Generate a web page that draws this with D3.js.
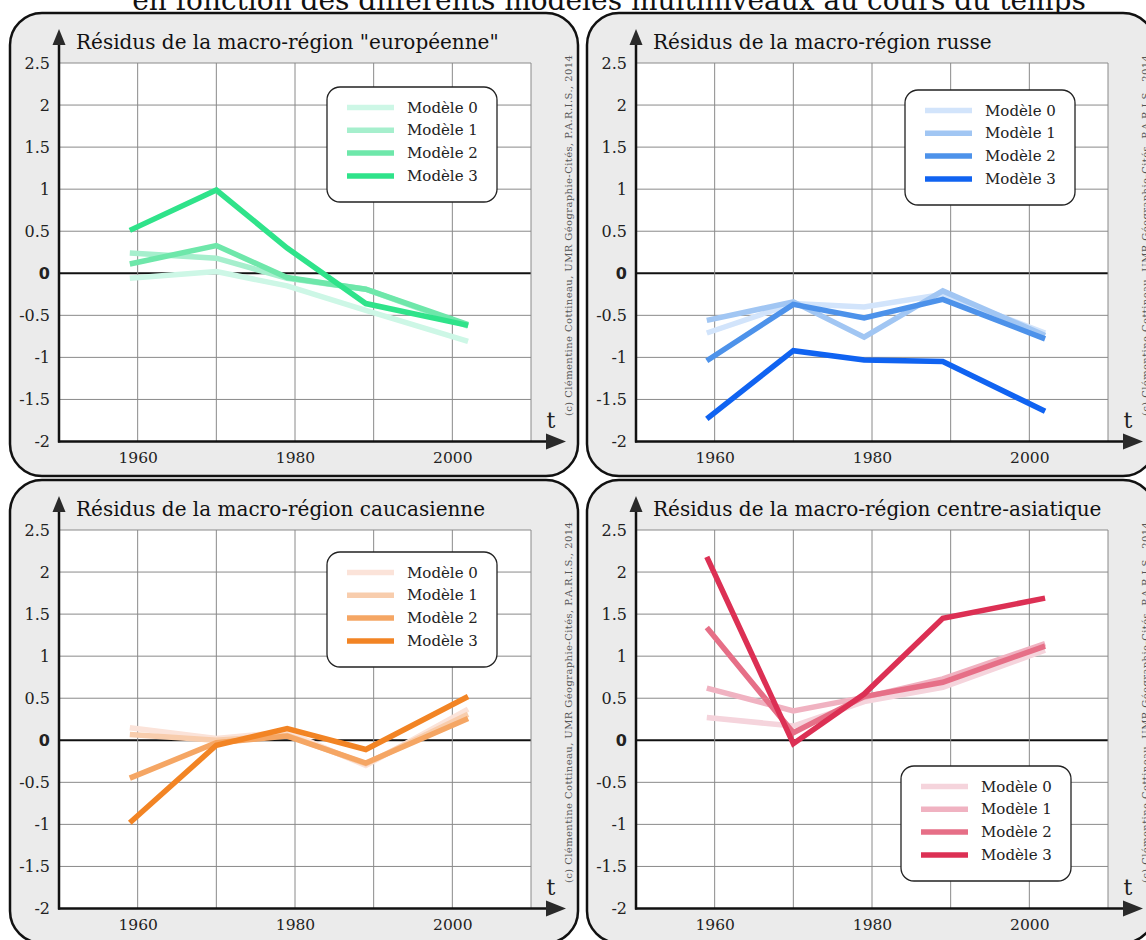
<!DOCTYPE html>
<html>
<head>
<meta charset="utf-8">
<script src="https://cdn.jsdelivr.net/npm/d3@7"></script>
<style>
  body { margin: 0; background: #fff; }
  svg { display: block; }
  text { font-family: "DejaVu Serif", serif; }
</style>
</head>
<body>
<div id="chart"></div>
<script>
// data
const years = [1959, 1970, 1979, 1989, 2002];
const models = ["Modèle 0", "Modèle 1", "Modèle 2", "Modèle 3"];
const yTicks = [-2, -1.5, -1, -0.5, 0, 0.5, 1, 1.5, 2, 2.5];
const xTickLabels = [1960, 1980, 2000];
const xGridYears = [1960, 1970, 1980, 1990, 2000, 2010];
const pageTitle = "en fonction des différents modèles multiniveaux au cours du temps";
const credit = "(c) Clémentine Cottineau, UMR Géographie-Cités, P.A.R.I.S., 2014";

const titles = [
    'Résidus de la macro-région "européenne"',
    "Résidus de la macro-région russe",
    "Résidus de la macro-région caucasienne",
    "Résidus de la macro-région centre-asiatique"
];

// one row per model (0..3), one value per census year
const europeValues = [
    [-0.06, 0.02, -0.15, -0.44, -0.81],
    [0.24, 0.18, -0.06, -0.19, -0.63],
    [0.11, 0.33, -0.05, -0.19, -0.61],
    [0.51, 0.99, 0.30, -0.36, -0.62]
];
const russiaValues = [
    [-0.71, -0.36, -0.40, -0.25, -0.71],
    [-0.56, -0.34, -0.76, -0.21, -0.74],
    [-1.04, -0.37, -0.53, -0.31, -0.78],
    [-1.73, -0.92, -1.03, -1.05, -1.64]
];
const caucasusValues = [
    [0.15, 0.02, 0.10, -0.30, 0.37],
    [0.07, 0.00, 0.06, -0.28, 0.31],
    [-0.45, -0.03, 0.05, -0.27, 0.26],
    [-0.98, -0.06, 0.14, -0.11, 0.52]
];
const centralAsiaValues = [
    [0.27, 0.17, 0.46, 0.63, 1.07],
    [0.62, 0.35, 0.51, 0.73, 1.15],
    [1.34, 0.09, 0.52, 0.69, 1.12],
    [2.18, -0.04, 0.55, 1.45, 1.69]
];

const greens = ["#cdf7e6", "#a6efcd", "#6ee7aa", "#2fe38a"];
const blues = ["#d2e4fb", "#a1c6f3", "#4d92ea", "#1063f1"];
const oranges = ["#fbe3d9", "#f8cdad", "#f5a664", "#f28424"];
const reds = ["#f5d4dc", "#f0b2c1", "#e66f87", "#dc3054"];

// layout
const W = 1146, H = 940;
const panelW = 568, panelH = 463;

const panels = [
    { title: titles[0], values: europeValues, colors: greens, x: 10, y: 13, legend: [317, 74] },
    { title: titles[1], values: russiaValues, colors: blues, x: 587, y: 13, legend: [318, 77] },
    { title: titles[2], values: caucasusValues, colors: oranges, x: 10, y: 480, legend: [317, 72] },
    { title: titles[3], values: centralAsiaValues, colors: reds, x: 587, y: 480, legend: [314, 286] }
];

const svg = d3.select("#chart").append("svg")
    .attr("width", W)
    .attr("height", H);

// page title, cut by the top edge as in the source figure
svg.append("text")
    .attr("x", 609)
    .attr("y", 10)
    .attr("text-anchor", "middle")
    .style("font-size", "28px")
    .style("fill", "#111")
    .text(pageTitle);

const plotLeft = 49, plotRight = 521, plotTop = 50, plotBottom = 428.5;

panels.forEach(p => {
    const g = svg.append("g")
        .attr("transform", `translate(${p.x},${p.y})`);

    g.append("rect")
        .attr("x", 0).attr("y", 0)
        .attr("width", panelW).attr("height", panelH)
        .attr("rx", 32).attr("ry", 32)
        .style("fill", "#ebebeb")
        .style("stroke", "#111")
        .style("stroke-width", 2.5);

    const x = d3.scaleLinear().domain([1950, 2010]).range([plotLeft, plotRight]);
    const y = d3.scaleLinear().domain([-2, 2.5]).range([plotBottom, plotTop]);

    g.append("rect")
        .attr("x", plotLeft).attr("y", plotTop)
        .attr("width", plotRight - plotLeft)
        .attr("height", plotBottom - plotTop)
        .style("fill", "#fff");

    // grid
    g.append("g")
        .selectAll("line.h")
        .data(yTicks)
        .enter().append("line")
        .attr("x1", plotLeft).attr("x2", plotRight)
        .attr("y1", d => y(d)).attr("y2", d => y(d))
        .style("stroke", d => d === 0 ? "#111" : "#8a8a8a")
        .style("stroke-width", d => d === 0 ? 2 : 1);

    g.append("g")
        .selectAll("line.v")
        .data(xGridYears)
        .enter().append("line")
        .attr("x1", d => x(d)).attr("x2", d => x(d))
        .attr("y1", y(2.5)).attr("y2", y(-2))
        .style("stroke", "#8a8a8a")
        .style("stroke-width", 1);

    // y labels
    const yAxis = g.append("g")
        .attr("transform", `translate(${plotLeft},0)`)
        .call(d3.axisLeft(y).tickValues(yTicks).tickSize(0).tickPadding(9)
            .tickFormat(d => String(d)));
    yAxis.select(".domain").remove();
    yAxis.selectAll("text")
        .attr("font-family", null)
        .style("font-family", d => d === 0 ? "DejaVu Sans" : "DejaVu Serif")
        .style("font-weight", d => d === 0 ? "bold" : "normal")
        .style("font-size", "16px")
        .style("fill", "#222");

    // x labels
    const xAxis = g.append("g")
        .attr("transform", `translate(0,${plotBottom})`)
        .call(d3.axisBottom(x).tickValues(xTickLabels).tickSize(0).tickPadding(10)
            .tickFormat(d3.format("d")));
    xAxis.select(".domain").remove();
    xAxis.selectAll("text")
        .attr("font-family", null)
        .style("font-family", "DejaVu Serif")
        .style("font-size", "15.5px")
        .style("fill", "#222");

    // axes with arrows
    g.append("line")
        .attr("x1", plotLeft).attr("x2", plotLeft)
        .attr("y1", plotBottom + 1).attr("y2", 30)
        .style("stroke", "#111").style("stroke-width", 2.5);
    g.append("path")
        .attr("d", `M${plotLeft - 6.5},32 L${plotLeft},16 L${plotLeft + 6.5},32 Z`)
        .style("fill", "#2a2a2a");
    g.append("line")
        .attr("x1", plotLeft - 1).attr("x2", 540)
        .attr("y1", plotBottom).attr("y2", plotBottom)
        .style("stroke", "#111").style("stroke-width", 2.5);
    g.append("path")
        .attr("d", `M536,${plotBottom - 8} L556,${plotBottom} L536,${plotBottom + 8} Z`)
        .style("fill", "#2a2a2a");
    g.append("text")
        .attr("x", 541).attr("y", 415)
        .attr("text-anchor", "middle")
        .style("font-size", "22px")
        .style("fill", "#222")
        .text("t");

    // title
    g.append("text")
        .attr("x", 66).attr("y", 36)
        .style("font-size", "20px")
        .style("fill", "#111")
        .text(p.title);

    // credit
    g.append("text")
        .attr("transform", `translate(562,403) rotate(-90)`)
        .style("font-size", "10px")
        .style("letter-spacing", "0.4px")
        .style("fill", "#555")
        .text(credit);

    // series
    const line = d3.line()
        .x((d, i) => x(years[i]))
        .y(d => y(d));

    g.append("g")
        .selectAll("path")
        .data(p.values)
        .enter().append("path")
        .attr("d", d => line(d))
        .style("fill", "none")
        .style("stroke", (d, i) => p.colors[i])
        .style("stroke-width", 5.5);

    // legend
    const lg = g.append("g")
        .attr("transform", `translate(${p.legend[0]},${p.legend[1]})`);
    lg.append("rect")
        .attr("width", 170).attr("height", 115)
        .attr("rx", 13).attr("ry", 13)
        .style("fill", "#fff")
        .style("stroke", "#222")
        .style("stroke-width", 1.3);
    const items = lg.selectAll("g.item")
        .data(models)
        .enter().append("g")
        .attr("transform", (d, i) => `translate(0,${20.5 + i * 22.8})`);
    items.append("line")
        .attr("x1", 20).attr("x2", 67)
        .attr("y1", 0).attr("y2", 0)
        .style("stroke", (d, i) => p.colors[i])
        .style("stroke-width", 5.5);
    items.append("text")
        .attr("x", 80).attr("y", 5)
        .style("font-size", "15px")
        .style("fill", "#222")
        .text(d => d);
});
</script>
</body>
</html>
